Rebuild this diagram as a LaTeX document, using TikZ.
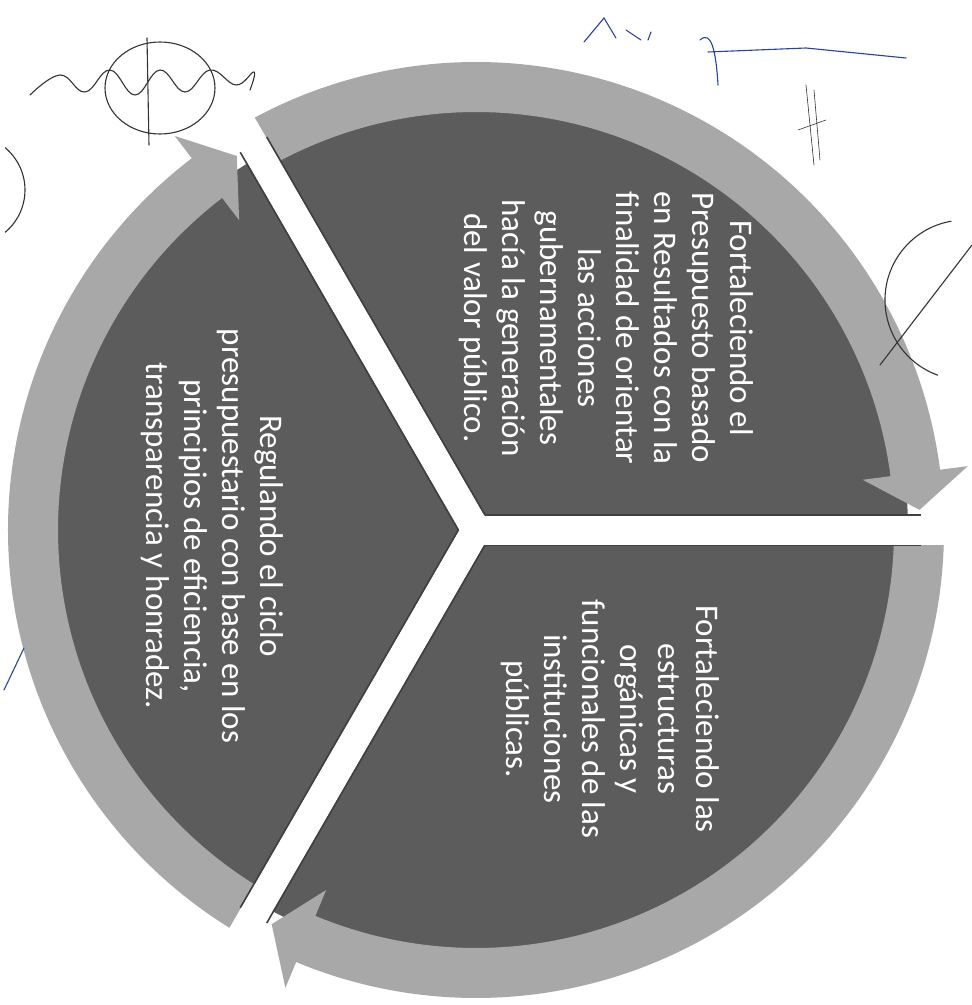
\documentclass[tikz,border=0pt]{standalone}
\usepackage{fontspec}
\setmainfont{Carlito}
\definecolor{sectorgray}{HTML}{5C5C5C}
\definecolor{ringgray}{HTML}{A8A8A8}
\definecolor{inkblue}{HTML}{2B3FA8}

\begin{document}
\begin{tikzpicture}[x=1pt,y=1pt,
					sector text/.style={rotate=-90,align=center,text=white,
						font=\fontsize{33}{38}\selectfont},
					ring arrow/.style={fill=ringgray},
					gap bar/.style={white,line width=29pt},
					gap edge/.style={black!75,line width=1.6pt},
					scribble/.style={black!80,line width=1.1pt,line cap=round}]

  \useasboundingbox (-476,-475) rectangle (496,530);
  \fill[sectorgray] (0,0) circle (432);

  % circular arrows, clockwise
  \foreach \a in {0,120,240}
    \fill[ring arrow] (\a+120:468) arc[start angle=\a+120,end angle=\a+7.4,radius=468]
      -- (\a+7.4:496) -- (\a+2.6:444) -- (\a+7.4:390) -- (\a+7.4:418)
      arc[start angle=\a+7.4,end angle=\a+120,radius=418] -- cycle;

  % white gaps between the sectors
  \foreach \a in {0,120,240}
    \draw[gap bar] (0,0) -- (\a:520);
  \foreach \a in {0,120,240}
    \draw[gap edge,rotate=\a] (8.8,15.3) -- (445,15.3) (8.8,-15.3) -- (445,-15.3);

  \node[sector text] (presupuesto) at (130,202) {Fortaleciendo el\\Presupuesto basado\\en Resultados con la\\finalidad de orientar\\las acciones\\gubernamentales\\hacía la generación\\del valor público.};
  \node[sector text] (estructuras) at (134,-189) {Fortaleciendo las\\estructuras\\orgánicas y\\funcionales de las\\instituciones\\públicas.};
  \node[sector text] (ciclo) at (-264,-6) {Regulando el ciclo\\presupuestario con base en los\\principios de eficiencia,\\transparencia y honradez.};

  % signatures on the page
  \draw[scribble] (-316,442) ellipse [x radius=55,y radius=46];
  \draw[scribble] (-329,492) -- (-327,385);
  \draw[scribble] plot[smooth,tension=.7] coordinates {(-446,435) (-416,455) (-391,438) (-366,460) (-341,435) (-316,460) (-291,438) (-266,460) (-240,445) (-222,458) (-226,440)};
  \draw[scribble,inkblue] (108,488) -- (128,512) -- (140,492) (150,500) -- (165,490) (175,498) -- (172,490);
  \draw[scribble,inkblue] (224,490) .. controls (235,500) and (240,480) .. (242,445) (232,478) -- (330,482) -- (430,472);
  \draw[scribble,line width=.6pt] (330,445) -- (338,365) (338,440) -- (344,370) (322,400) -- (350,410);
  \draw[scribble] (489,230) ++(100:80) arc[start angle=100,end angle=250,radius=80];
  \draw[scribble] (404,165) -- (496,285);
  \draw[scribble] (-506,340) ++(50:55) arc[start angle=50,end angle=-50,radius=55];
  \draw[scribble,inkblue] (-472,-160) -- (-452,-118);
\end{tikzpicture}
\end{document}
